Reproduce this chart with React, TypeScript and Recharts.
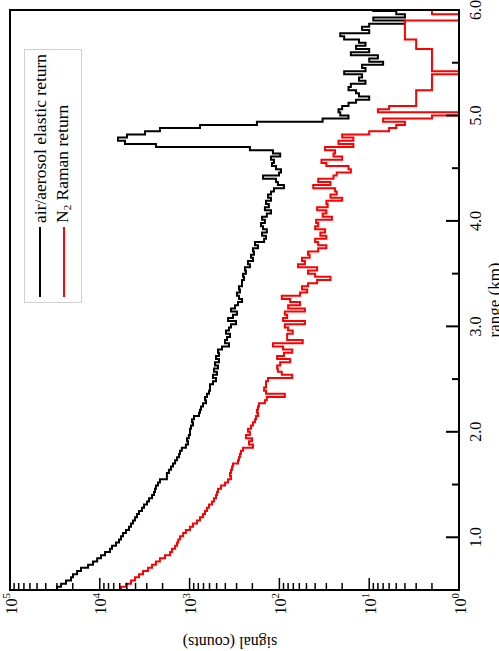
import { LineChart, Line, XAxis, YAxis } from "recharts"

// histogram bins along the range axis
const RANGE_START_KM = 0.5
const BIN_WIDTH_KM = 0.03

// air/aerosol elastic return, counts per bin
const ELASTIC_COUNTS = [
  30000, 27000, 23800, 20900, 19900, 17900, 16200, 13500, 11900, 10700,
  9700, 8750, 7700, 7310, 6600, 6110, 5810, 5520, 5110, 4730,
  4490, 4270, 4050, 3850, 3660, 3390, 3220, 2980, 2830, 2620,
  2490, 2430, 2370, 2250, 2140, 1790, 1790, 1700, 1610, 1530,
  1450, 1380, 1310, 1280, 1220, 1100, 1040, 1070, 1020, 990,
  990, 965, 917, 940, 894, 786, 766, 746, 709, 657,
  674, 640, 608, 593, 593, 549, 508, 549, 495, 535,
  483, 521, 471, 508, 471, 483, 436, 364, 403, 383,
  355, 393, 364, 346, 304, 373, 329, 297, 346, 312,
  289, 261, 282, 297, 275, 282, 261, 261, 248, 254,
  236, 242, 213, 224, 197, 207, 192, 197, 173, 187,
  148, 141, 156, 138, 152, 160, 145, 156, 138, 124,
  145, 131, 141, 124, 134, 124, 115, 89, 104, 109,
  152, 101, 96, 109, 121, 115, 124, 98, 118, 213,
  2370, 5240, 6270, 4980, 3140, 2140, 766, 178, 33, 17,
  21, 22, 20, 17, 14, 10, 13, 14, 17, 16,
  11, 13, 12, 19, 11, 12, 7, 10, 8, 16,
  10, 14, 11, 13, 19, 21, 10, 12, 10, 4,
  9, 4, 5, 9,
]

// N2 Raman return, counts per bin
const RAMAN_COUNTS = [
  5810, 5110, 4490, 4050, 3660, 3300, 2900, 2620, 2370, 2140,
  1880, 1650, 1570, 1450, 1380, 1340, 1280, 1180, 1100, 990,
  917, 827, 766, 709, 674, 640, 608, 563, 535, 508,
  495, 483, 447, 403, 373, 346, 355, 346, 337, 329,
  289, 282, 275, 268, 254, 197, 218, 202, 236, 213,
  224, 207, 197, 187, 182, 173, 178, 173, 169, 145,
  138, 87, 141, 148, 141, 141, 134, 72, 94, 104,
  106, 98, 76, 106, 89, 72, 91, 118, 55, 82,
  82, 71, 80, 87, 52, 91, 82, 87, 52, 80,
  59, 76, 94, 59, 49, 56, 48, 38, 27, 40,
  48, 38, 62, 52, 56, 46, 48, 37, 30, 37,
  40, 30, 35, 31, 40, 37, 39, 26, 33, 30,
  38, 29, 30, 20, 27, 23, 24, 42, 27, 37,
  25, 23, 16, 17, 30, 34, 20, 25, 24, 31,
  15, 22, 15, 20, 10, 6, 5, 4, 7, 2,
  1, 8, 6, 3, 3, 3, 3, 3, 2, 2,
  2, 2, 2, 1, 2, 2, 2, 2, 2, 2,
  2, 3, 3, 3, 4, 4, 4, 4, 4, 4,
  1, 1, 2, 2,
]

const RANGE_TICKS = [1, 1.5, 2, 2.5, 3, 3.5, 4, 4.5, 5, 5.5, 6]
const SIGNAL_DECADES = [1, 10, 100, 1000, 10000, 100000]
const SIGNAL_MINOR = [2, 3, 4, 5, 6, 7, 8, 9]

const LEGEND = [
  { name: "air/aerosol elastic return", color: "#000000" },
  { name: "N", sub: "2", rest: " Raman return", color: "#ff0000" },
]

// the chart is laid out landscape and then turned a quarter turn counter-clockwise
const W = 651
const H = 499
const MARGIN = { top: 10, right: 10, left: 11, bottom: 10 }
const Y_AXIS_W = 50
const X_AXIS_H = 30
const FONT = '"Liberation Serif", "Times New Roman", Times, serif'

const signalTicks = SIGNAL_DECADES.flatMap((d, i) =>
  i === SIGNAL_DECADES.length - 1 ? [d] : [d, ...SIGNAL_MINOR.map((m) => d * m)]
)

const data = ELASTIC_COUNTS.map((e, i) => ({
  range: +(RANGE_START_KM + i * BIN_WIDTH_KM).toFixed(3),
  elastic: e,
  raman: RAMAN_COUNTS[i],
}))
// close the last bin
data.push({
  range: +(RANGE_START_KM + ELASTIC_COUNTS.length * BIN_WIDTH_KM).toFixed(3),
  elastic: ELASTIC_COUNTS[ELASTIC_COUNTS.length - 1],
  raman: RAMAN_COUNTS[RAMAN_COUNTS.length - 1],
})

function RangeTick({ x, y, payload }: any) {
  const v = payload.value
  const major = Number.isInteger(v)
  return (
    <g>
      <line x1={x} y1={y} x2={x} y2={y - (major ? 13 : 7)} stroke="#000" strokeWidth={2} />
      {major && (
        <text x={x} y={y + 16} textAnchor="middle" dominantBaseline="central" fontSize={16} fontFamily={FONT} fill="#000">
          {v.toFixed(1)}
        </text>
      )}
    </g>
  )
}

function SignalTick({ x, y, payload }: any) {
  const v = payload.value
  const exp = Math.round(Math.log10(v))
  const major = Math.abs(v - Math.pow(10, exp)) < 1e-6 * v
  return (
    <g>
      <line x1={x} y1={y} x2={x + (major ? 12 : 7)} y2={y} stroke="#000" strokeWidth={1.5} />
      {major && (
        <text x={x - 3} y={y + 1} textAnchor="end" dominantBaseline="central" fontSize={16} fontFamily={FONT} fill="#000">
          10
          <tspan dy={-5} fontSize={11}>{exp}</tspan>
        </text>
      )}
    </g>
  )
}

export default function App() {
  const axisLine = { stroke: "#000", strokeWidth: 2 }
  const plotLeft = MARGIN.left + Y_AXIS_W
  const plotTop = MARGIN.top
  const plotW = W - plotLeft - MARGIN.right
  const plotH = H - MARGIN.top - MARGIN.bottom - X_AXIS_H
  return (
    <div style={{ position: "absolute", left: 0, top: 0, width: H, height: W, overflow: "hidden", background: "#fff" }}>
      <div
        style={{
          position: "absolute",
          left: 0,
          top: 0,
          width: W,
          height: H,
          transformOrigin: "0 0",
          transform: `translate(0px, ${W}px) rotate(-90deg)`,
          fontFamily: FONT,
        }}
      >
        <LineChart width={W} height={H} data={data} margin={MARGIN}>
          <XAxis
            dataKey="range"
            type="number"
            domain={[0.5, 6]}
            allowDataOverflow
            ticks={RANGE_TICKS}
            interval={0}
            height={X_AXIS_H}
            tickSize={0}
            tickMargin={0}
            tickLine={false}
            axisLine={axisLine}
            tick={<RangeTick />}
          />
          <YAxis
            type="number"
            scale="log"
            domain={[1, 100000]}
            allowDataOverflow
            ticks={signalTicks}
            interval={0}
            width={Y_AXIS_W}
            tickSize={0}
            tickMargin={0}
            tickLine={false}
            axisLine={axisLine}
            tick={<SignalTick />}
          />
          <Line
            type="stepAfter"
            dataKey="elastic"
            stroke="#000000"
            strokeWidth={2}
            dot={false}
            isAnimationActive={false}
          />
          <Line
            type="stepAfter"
            dataKey="raman"
            stroke="#ff0000"
            strokeWidth={2}
            dot={false}
            isAnimationActive={false}
          />
        </LineChart>

        {/* plot frame */}
        <div
          style={{
            position: "absolute",
            left: plotLeft - 1,
            top: plotTop - 1,
            width: plotW + 2,
            height: plotH + 2,
            boxSizing: "border-box",
            border: "2px solid #000",
            pointerEvents: "none",
          }}
        />

        {/* legend */}
        <div
          style={{
            position: "absolute",
            left: 348,
            top: 24,
            width: 254,
            height: 58,
            boxSizing: "border-box",
            border: "1px solid #d0d0d0",
            background: "#fff",
          }}
        >
          {LEGEND.map((item, i) => (
            <div
              key={i}
              style={{
                position: "absolute",
                left: 5,
                top: 6 + i * 24,
                height: 18,
                display: "flex",
                alignItems: "center",
                whiteSpace: "nowrap",
                fontSize: 17.5,
                lineHeight: "18px",
                color: "#000",
              }}
            >
              <span style={{ display: "inline-block", width: 70, height: 2, background: item.color, marginRight: 4 }} />
              <span>
                {item.name}
                {item.sub && <sub style={{ fontSize: 11, verticalAlign: "-3px" }}>{item.sub}</sub>}
                {item.rest}
              </span>
            </div>
          ))}
        </div>

        {/* axis titles */}
        <div
          style={{
            position: "absolute",
            left: plotLeft,
            width: plotW,
            top: 486,
            textAlign: "center",
            fontSize: 17,
            lineHeight: "18px",
            whiteSpace: "nowrap",
          }}
        >
          range (km)
        </div>
        <div
          style={{
            position: "absolute",
            left: 9,
            top: 230,
            transform: "translate(-50%, -50%) rotate(-90deg)",
            fontSize: 16,
            lineHeight: "18px",
            whiteSpace: "nowrap",
          }}
        >
          signal (counts)
        </div>
      </div>
    </div>
  )
}
